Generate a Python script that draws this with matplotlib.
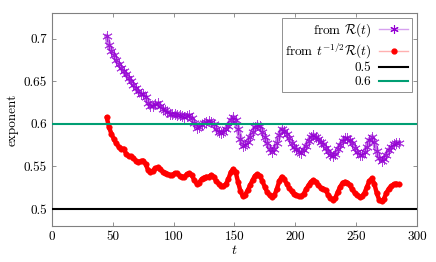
import numpy as np
import matplotlib
matplotlib.use("Agg")
import matplotlib.pyplot as plt
from matplotlib.ticker import FuncFormatter
from matplotlib.lines import Line2D

plt.rcParams['font.family'] = 'serif'
plt.rcParams['font.serif'] = ['cmr10']
plt.rcParams['mathtext.fontset'] = 'cm'
plt.rcParams['axes.formatter.use_mathtext'] = True

t = np.arange(45, 286, 2)

from_R = [
    0.703, 0.692, 0.686, 0.681, 0.675, 0.670, 0.666, 0.662, 0.658, 0.654,
    0.650, 0.646, 0.642, 0.638, 0.635, 0.635, 0.632, 0.625, 0.621, 0.621,
    0.623, 0.624, 0.621, 0.618, 0.616, 0.614, 0.612, 0.611, 0.611, 0.610,
    0.610, 0.609, 0.608, 0.609, 0.610, 0.607, 0.601, 0.595, 0.596, 0.599,
    0.601, 0.602, 0.603, 0.602, 0.600, 0.594, 0.590, 0.589, 0.591, 0.594,
    0.598, 0.604, 0.608, 0.605, 0.594, 0.582, 0.574, 0.575, 0.579, 0.585,
    0.591, 0.596, 0.599, 0.597, 0.591, 0.584, 0.577, 0.571, 0.567, 0.571,
    0.578, 0.587, 0.594, 0.592, 0.588, 0.583, 0.578, 0.573, 0.570, 0.567,
    0.566, 0.569, 0.574, 0.580, 0.585, 0.587, 0.585, 0.582, 0.579, 0.576,
    0.572, 0.568, 0.564, 0.562, 0.565, 0.570, 0.575, 0.580, 0.583, 0.583,
    0.581, 0.577, 0.572, 0.567, 0.564, 0.563, 0.567, 0.573, 0.581, 0.585,
    0.579, 0.568, 0.560, 0.557, 0.559, 0.564, 0.569, 0.573, 0.576, 0.578,
    0.578,
]

from_tR = [
    0.608, 0.596, 0.588, 0.582, 0.577, 0.573, 0.571, 0.571, 0.565, 0.562,
    0.562, 0.560, 0.557, 0.555, 0.556, 0.557, 0.553, 0.546, 0.544, 0.545,
    0.548, 0.549, 0.547, 0.544, 0.542, 0.541, 0.540, 0.540, 0.542, 0.542,
    0.539, 0.538, 0.538, 0.541, 0.542, 0.540, 0.534, 0.530, 0.531, 0.535,
    0.537, 0.538, 0.538, 0.540, 0.538, 0.533, 0.530, 0.527, 0.527, 0.529,
    0.535, 0.543, 0.547, 0.544, 0.532, 0.521, 0.515, 0.517, 0.522, 0.528,
    0.534, 0.539, 0.541, 0.539, 0.533, 0.526, 0.520, 0.516, 0.514, 0.516,
    0.524, 0.533, 0.538, 0.535, 0.530, 0.525, 0.521, 0.518, 0.516, 0.515,
    0.515, 0.518, 0.523, 0.528, 0.532, 0.534, 0.532, 0.528, 0.525, 0.524,
    0.522, 0.517, 0.513, 0.511, 0.513, 0.520, 0.526, 0.531, 0.532, 0.531,
    0.528, 0.523, 0.519, 0.516, 0.514, 0.515, 0.519, 0.526, 0.533, 0.536,
    0.530, 0.519, 0.511, 0.509, 0.512, 0.519, 0.524, 0.527, 0.529, 0.530,
    0.529,
]

ref_levels = [0.5, 0.6]
labels = [r'from $\mathcal{R}(t)$', r'from $t^{-1/2}\mathcal{R}(t)$', '0.5', '0.6']
xticks = [0, 50, 100, 150, 200, 250, 300]
yticks = [0.5, 0.55, 0.6, 0.65, 0.7]

fig = plt.figure(figsize=(4.36, 2.62), dpi=100)
ax = fig.add_axes([0.119, 0.137, 0.837, 0.813])

purple = '#9400D3'
red = '#FF0000'
green = '#009E73'
star = (6, 2, 0)

# series: thick band underneath + markers on top
ax.plot(t, from_R, color=purple, lw=3.5, alpha=0.55, solid_capstyle='round', zorder=2)
ax.plot(t, from_R, ls='none', marker=star, ms=7.5, mec=purple, mfc=purple,
        mew=0.7, alpha=0.75, zorder=2.1)
ax.plot(t, from_tR, color=red, lw=3.2, solid_capstyle='round', zorder=2)
ax.plot(t, from_tR, ls='none', marker='o', ms=4.0, mec=red, mfc=red,
        mew=0.3, zorder=2.1)
ax.axhline(ref_levels[0], color='black', lw=1.5, zorder=3)
ax.axhline(ref_levels[1], color=green, lw=1.5, zorder=3)

handles = [
    Line2D([], [], color='#d6a0ef', lw=1.0, marker=star, ms=6, mec=purple, mfc=purple, mew=0.8),
    Line2D([], [], color='#ffb0b0', lw=1.0, marker='o', ms=3.5, mec=red, mfc=red),
    Line2D([], [], color='black', lw=1.5),
    Line2D([], [], color=green, lw=1.5),
]

ax.set_xlim(0, 300)
ax.set_ylim(0.48, 0.73)
ax.set_xticks(xticks)
ax.set_yticks(yticks)
ax.yaxis.set_major_formatter(FuncFormatter(lambda v, p: '%g' % v))
ax.xaxis.set_major_formatter(FuncFormatter(lambda v, p: '%g' % v))

for s in ax.spines.values():
    s.set_color('#808080')
    s.set_linewidth(0.8)
ax.tick_params(direction='in', top=True, right=True, length=3, width=0.6,
               color='#808080', labelsize=9.5)

ax.set_xlabel(r'$t$', fontsize=10, labelpad=1)
ax.set_ylabel('exponent', fontsize=9.5, labelpad=4)

leg = ax.legend(handles, labels, loc='upper right', markerfirst=False, fontsize=9.5,
                frameon=True, fancybox=False, edgecolor='#808080',
                framealpha=1, handlelength=2.2, borderpad=0.25,
                labelspacing=0.12, handletextpad=0.6, borderaxespad=0.4)
leg.get_frame().set_linewidth(0.6)

fig.savefig('out.png', dpi=100)
